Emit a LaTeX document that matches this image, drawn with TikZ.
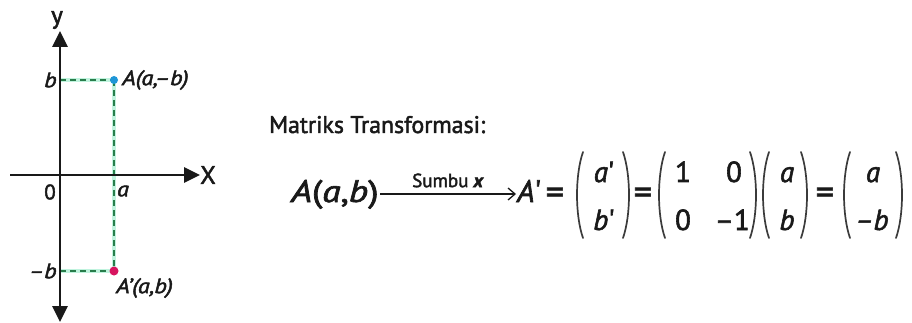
\documentclass[tikz,border=0pt]{standalone}
\usepackage{fontspec}
\setmainfont{PT Sans}[FakeBold=2]
\usetikzlibrary{arrows.meta}
\definecolor{dgreen}{RGB}{40,125,75}
\definecolor{lgreen}{RGB}{150,235,200}
\definecolor{ablue}{RGB}{30,150,215}
\definecolor{ared}{RGB}{215,20,95}
\definecolor{ink}{RGB}{25,25,25}
\begin{document}
\begin{tikzpicture}[x=1pt,y=-1pt,
  axis/.style={line width=2.8pt, ink, {Triangle[length=16pt,width=15pt]}-{Triangle[length=16pt,width=15pt]}},
  axisone/.style={line width=2.8pt, ink, -{Triangle[length=16pt,width=15pt]}},
  glow/.style={line width=4pt, lgreen, opacity=0.6},
  guide/.style={line width=1.6pt, dgreen, dash pattern=on 6pt off 4pt},
  lbl/.style={font=\fontsize{21}{24}\selectfont, text=ink, inner sep=0pt},
  ilbl/.style={font=\fontsize{21}{24}\selectfont\itshape, text=ink, inner sep=0pt, xscale=1.15},
  eq/.style={font=\fontsize{29}{32}\selectfont, text=ink, inner sep=0pt},
  eqs/.style={font=\fontsize{36}{38}\selectfont, text=ink, inner sep=0pt},
  small/.style={font=\fontsize{19}{21}\selectfont, text=ink, inner sep=0pt},
  parstyle/.style={line width=1.7pt, ink!85, line cap=round},
  lpar/.pic={\draw[parstyle] (7,-43) .. controls (-1,-20) and (-1,20) .. (7,43);},
  rpar/.pic={\draw[parstyle] (-7,-43) .. controls (1,-20) and (1,20) .. (-7,43);},
  tarrow/.style={line width=1.3pt, ink, -{Straight Barb[length=7pt,width=12pt]}}
]
\useasboundingbox (0,0) rectangle (912,323);

% ---------- axes ----------
\coordinate (xl) at (10,175);
\coordinate (xr) at (200,175);
\coordinate (yt) at (60,31);
\coordinate (yb) at (60,322);
\coordinate (O) at (60,175);
\coordinate (yB) at (60,80);
\coordinate (ymB) at (60,271);
\coordinate (A) at (114,80);
\coordinate (Ap) at (114,271);

% guides (glow then dashes)
\draw[glow] (yB) -- (A) -- (Ap) -- (ymB);
\draw[guide] (yB) -- (A);
\draw[guide] (A) -- (Ap);
\draw[guide] (ymB) -- (Ap);

\draw[axisone] (xl) -- (xr);
\draw[axis] (yb) -- (yt);

\fill[ablue] (A) circle (4pt);
\fill[ared] (Ap) circle (4.5pt);

\node[lbl, font=\fontsize{25}{27}\selectfont] (ylab) at (57,20) {y};
\node[lbl, font=\fontsize{25}{27}\selectfont] (xlab) at (208,175) {X};
\node[lbl] (zero) at (50,192) {0};
\node[ilbl] (alab) at (123,191) {a};
\node[ilbl, anchor=east] (blab) at (57,80) {b};
\node[ilbl, anchor=east] (mblab) at (57,271) {–b};
\node[ilbl, anchor=west] (Alab) at (122,80) {A(a,–b)};
\node[ilbl, anchor=west] (Aplab) at (116,288) {A’(a,b)};

% ---------- right part ----------
\node[lbl, anchor=base west] (title) at (269,133) {\resizebox{216pt}{17pt}{\fontsize{22}{24}\selectfont Matriks Transformasi:}};

\node[eq, anchor=base west, font=\fontsize{31}{34}\selectfont, xscale=1.2] (Aab) at (291,202) {\itshape A\upshape(\itshape a\upshape,\itshape b\upshape)};
\coordinate (ar1) at (380,194);
\coordinate (ar2) at (516,194);
\draw[tarrow] (ar1) -- node[small, above=6pt] (sumbu) {Sumbu \textit{\textbf{x}}} (ar2);
\node[eq, anchor=base west, font=\fontsize{31}{34}\selectfont] (Aprime) at (517,202) {\itshape A\upshape\textquotesingle};
\node[eqs] (eq1) at (555,196) {=};

% vector 1
\pic at (576,195) {lpar};
\pic at (630,195) {rpar};
\node[eq, anchor=base] (v1a) at (604,182) {\itshape a\upshape\textquotesingle};
\node[eq, anchor=base] (v1b) at (604,230) {\itshape b\upshape\textquotesingle};
\node[eqs] (eq2) at (643,196) {=};

% matrix
\pic at (658,195) {lpar};
\pic at (757,195) {rpar};
\node[eq, anchor=base] (m11) at (683,182) {1};
\node[eq, anchor=base] (m12) at (734,182) {0};
\node[eq, anchor=base] (m21) at (683,230) {0};
\node[eq, anchor=base east] (m22) at (750,230) {–1};

% vector 2
\pic at (762,195) {lpar};
\pic at (808,195) {rpar};
\node[eq, anchor=base] (v2a) at (787,182) {\itshape a};
\node[eq, anchor=base] (v2b) at (787,230) {\itshape b};
\node[eqs] (eq3) at (825,196) {=};

% vector 3
\pic at (843,195) {lpar};
\pic at (903,195) {rpar};
\node[eq, anchor=base] (v3a) at (873,182) {\itshape a};
\node[eq, anchor=base] (v3b) at (872,230) {\itshape –b};
\end{tikzpicture}
\end{document}
